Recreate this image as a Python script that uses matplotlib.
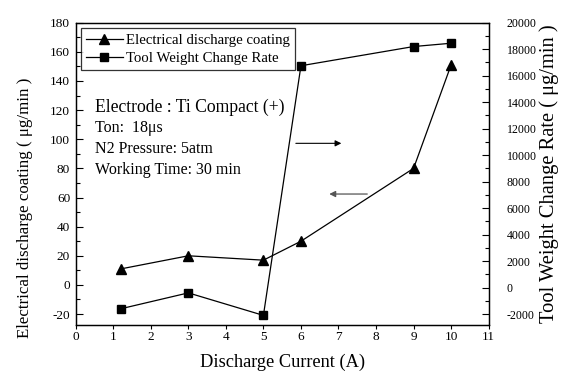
import matplotlib
matplotlib.use('Agg')
import matplotlib.pyplot as plt
from matplotlib.ticker import MultipleLocator

plt.rcParams['font.family'] = ['Liberation Serif', 'DejaVu Serif']
plt.rcParams['axes.unicode_minus'] = False

# ── Data ──
current = [1.2, 3, 5, 6, 9, 10]                              # A
coating = [11, 20, 17, 30, 80, 151]                          # ug/min
tool_rate = [-1600, -400, -2100, 16750, 18200, 18450]        # ug/min

fig = plt.figure(figsize=(5.61, 3.81), dpi=100)
ax = fig.add_axes([0.135, 0.147, 0.736, 0.7934])
ax2 = ax.twinx()

l1, = ax.plot(current, coating, color='black', lw=0.9, marker='^',
              markersize=7.5, label='Electrical discharge coating')
l2, = ax2.plot(current, tool_rate, color='black', lw=0.9, marker='s',
               markersize=6, label='Tool Weight Change Rate')

# Axes limits / ticks
ax.set_xlim(0, 11)
ax.set_ylim(-27.5, 180)
ax2.set_ylim(-2825, 20000)
ax.xaxis.set_major_locator(MultipleLocator(1))
ax.yaxis.set_major_locator(MultipleLocator(20))
ax.yaxis.set_minor_locator(MultipleLocator(10))
ax2.yaxis.set_major_locator(MultipleLocator(2000))
ax2.yaxis.set_minor_locator(MultipleLocator(1000))

ax.tick_params(axis='x', direction='out', length=3, width=0.8, labelsize=9.5, pad=1)
ax.tick_params(axis='y', which='major', direction='in', length=5, width=0.8, labelsize=9.5, pad=4)
ax.tick_params(axis='y', which='minor', direction='in', length=3, width=0.8)
ax2.tick_params(axis='y', which='major', direction='in', length=5, width=0.8, labelsize=8.6, pad=13)
ax2.tick_params(axis='y', which='minor', direction='in', length=3, width=0.8)
for a in (ax, ax2):
    for sp in a.spines.values():
        sp.set_linewidth(0.9)

ax.set_xlabel('Discharge Current (A)', fontsize=13.2, labelpad=8)
ax.set_ylabel('Electrical discharge coating ( μg/min )', fontsize=12.2)
ax2.set_ylabel('Tool Weight Change Rate ( μg/min )', fontsize=14.8)
ax.yaxis.set_label_coords(-0.103, 0.387)
ax2.yaxis.set_label_coords(1.123, 0.5)

# Legend
leg = ax.legend(handles=[l1, l2], loc='upper left', bbox_to_anchor=(0.012, 0.9815),
                borderaxespad=0, fontsize=10.6, frameon=True, fancybox=False,
                handlelength=2.5, handletextpad=0.2, borderpad=0.35, labelspacing=0.35)
leg.get_frame().set_edgecolor('black')
leg.get_frame().set_linewidth(0.9)
leg.set_zorder(10)

# Test conditions
ax.text(0.51, 122, 'Electrode : Ti Compact (+)', fontsize=12.7, va='center')
ax.text(0.51, 108, 'Ton:  18μs', fontsize=11.5, va='center')
ax.text(0.51, 93, 'N2 Pressure: 5atm', fontsize=11.5, va='center')
ax.text(0.51, 79, 'Working Time: 30 min', fontsize=11.5, va='center')

# Arrows pointing to the matching axis
ax.annotate('', xy=(7.15, 97.2), xytext=(5.79, 97.2),
            arrowprops=dict(arrowstyle='-|>', color='black', lw=0.8, mutation_scale=9))
ax.annotate('', xy=(6.68, 62.4), xytext=(7.84, 62.4),
            arrowprops=dict(arrowstyle='-|>', color='#555555', lw=0.9, mutation_scale=9))

plt.savefig('out.png', dpi=100)
plt.close()
